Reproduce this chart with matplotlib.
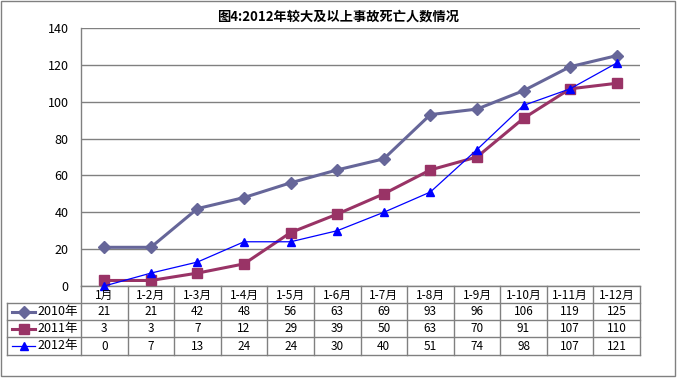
import matplotlib

matplotlib.use("Agg")
import matplotlib.pyplot as plt
from matplotlib.lines import Line2D
from matplotlib.patches import Rectangle

plt.rcParams["font.family"] = ["Noto Sans CJK SC", "DejaVu Sans"]

# данные графика
categories = ["1月", "1-2月", "1-3月", "1-4月", "1-5月", "1-6月",
              "1-7月", "1-8月", "1-9月", "1-10月", "1-11月", "1-12月"]
series_names = ["2010年", "2011年", "2012年"]
v2010 = [21, 21, 42, 48, 56, 63, 69, 93, 96, 106, 119, 125]
v2011 = [3, 3, 7, 12, 29, 39, 50, 63, 70, 91, 107, 110]
v2012 = [0, 7, 13, 24, 24, 30, 40, 51, 74, 98, 107, 121]
yticks = [0, 20, 40, 60, 80, 100, 120, 140]
title = "图4:2012年较大及以上事故死亡人数情况"

W, H = 677, 378
GRAY = "#808080"
styles = [
    dict(color="#666699", marker="D", ms=6.5, lw=2.2),
    dict(color="#993366", marker="s", ms=7.5, lw=2.2),
    dict(color="#0000FF", marker="^", ms=5.5, lw=0.9),
]

fig = plt.figure(figsize=(W / 100, H / 100), dpi=100)
fig.patch.set_facecolor("white")

# рамка вокруг всей диаграммы
fig.patches.append(Rectangle((1 / W, 1 - 376 / H), 674 / W, 375 / H,
                             transform=fig.transFigure, fill=False,
                             edgecolor=GRAY, lw=1))

# область построения
x0, x1, ytop, ybot = 81, 640, 28, 286
ax = fig.add_axes([x0 / W, 1 - ybot / H, (x1 - x0) / W, (ybot - ytop) / H])
ax.set_xlim(-0.5, len(categories) - 0.5)
ax.set_ylim(0, 140)
ax.set_yticks(yticks)
ax.set_yticklabels([str(t) for t in yticks], fontsize=9)
ax.set_xticks([])
ax.tick_params(axis="y", length=0, pad=9)
for s in ("top", "right"):
    ax.spines[s].set_visible(False)
for s in ("left", "bottom"):
    ax.spines[s].set_color(GRAY)
    ax.spines[s].set_linewidth(1)
ax.grid(axis="y", color=GRAY, lw=1)
ax.set_axisbelow(True)

xs = range(len(categories))
for vals, st in zip([v2010, v2011, v2012], styles):
    ax.plot(xs, vals, color=st["color"], lw=st["lw"], marker=st["marker"],
            ms=st["ms"], mec=st["color"], mfc=st["color"], clip_on=False, zorder=3)

fig.text(0.5, 1 - 17 / H, title, ha="center", va="center",
         fontsize=9.5, fontweight="bold")

# таблица данных под графиком
tx0, rows = 7, [286, 303, 320, 337, 355]
tab = fig.add_axes([tx0 / W, 1 - rows[-1] / H, (x1 - tx0) / W, (rows[-1] - rows[0]) / H])
tab.set_xlim(tx0, x1)
tab.set_ylim(rows[-1], rows[0])
tab.axis("off")
colw = (x1 - x0) / len(categories)
kw = dict(color=GRAY, lw=1, clip_on=False)
for y in rows[1:]:
    tab.plot([tx0, x1], [y, y], **kw)
tab.plot([tx0, tx0], [rows[1], rows[-1]], **kw)
for i in range(len(categories) + 1):
    xv = x0 + i * colw
    tab.plot([xv, xv], [rows[0], rows[-1]], **kw)

for i, c in enumerate(categories):
    tab.text(x0 + (i + 0.5) * colw, (rows[0] + rows[1]) / 2 + 0.5, c,
             ha="center", va="center", fontsize=8.5)

for r, (name, vals, st) in enumerate(zip(series_names, [v2010, v2011, v2012], styles)):
    yc = (rows[r + 1] + rows[r + 2]) / 2
    tab.add_line(Line2D([12, 35], [yc, yc], color=st["color"], lw=st["lw"]))
    tab.plot([23.5], [yc], marker=st["marker"], ms=st["ms"], color=st["color"])
    tab.text(37, yc, name, ha="left", va="center", fontsize=9)
    for i, v in enumerate(vals):
        tab.text(x0 + (i + 0.5) * colw, yc, str(v), ha="center", va="center", fontsize=8.5)

fig.savefig("out.png", dpi=100)
